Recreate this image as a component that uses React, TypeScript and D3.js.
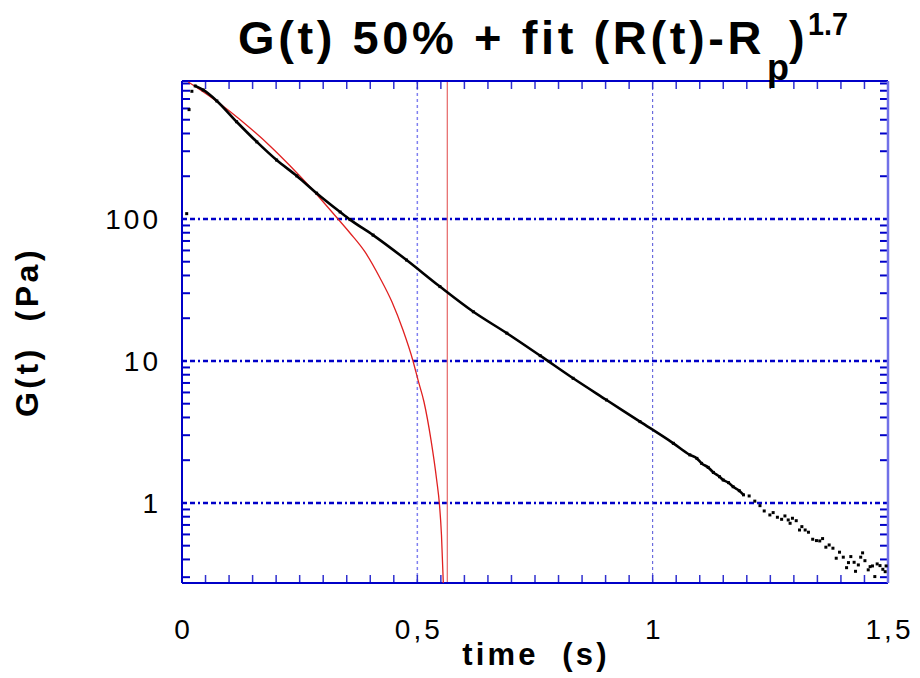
import React from 'react';
import * as d3 from 'd3';

// Measured relaxation modulus G(t) (Pa) vs time (s)
const dataT = [0.010, 0.015, 0.021, 0.028, 0.045, 0.074, 0.116, 0.159, 0.201, 0.244, 0.286, 0.336, 0.357, 0.406, 0.477, 0.548, 0.619, 0.690, 0.761, 0.831, 0.902, 0.973, 1.044, 1.079, 1.094, 1.104, 1.118, 1.129, 1.142, 1.150, 1.161, 1.171, 1.184, 1.193, 1.205, 1.217, 1.228, 1.237, 1.249, 1.256, 1.265, 1.274, 1.281, 1.288, 1.292, 1.297, 1.305, 1.312, 1.317, 1.324, 1.331, 1.340, 1.348, 1.355, 1.361, 1.368, 1.375, 1.383, 1.390, 1.397, 1.405, 1.412, 1.416, 1.421, 1.428, 1.431, 1.437, 1.442, 1.446, 1.451, 1.458, 1.462, 1.467, 1.472, 1.477, 1.483, 1.489, 1.494, 1.496];
const dataG = [109, 589, 793, 865, 810, 678, 484, 349, 260, 201, 152, 112, 99, 77, 51.4, 33.4, 22.2, 15.7, 10.9, 7.55, 5.31, 3.74, 2.63, 2.18, 2.06, 1.90, 1.78, 1.64, 1.53, 1.45, 1.39, 1.30, 1.22, 1.14, 1.12, 1.03, 0.957, 0.878, 0.823, 0.855, 0.793, 0.767, 0.810, 0.759, 0.719, 0.780, 0.750, 0.645, 0.681, 0.645, 0.622, 0.555, 0.543, 0.540, 0.561, 0.488, 0.506, 0.480, 0.408, 0.450, 0.415, 0.350, 0.380, 0.419, 0.382, 0.330, 0.366, 0.415, 0.445, 0.392, 0.338, 0.356, 0.360, 0.303, 0.372, 0.362, 0.341, 0.328, 0.360];

// Fit (R(t)-Rp)^1.7
const fitT = [0.0134, 0.0595, 0.1020, 0.1445, 0.1870, 0.2295, 0.2720, 0.3314, 0.3569, 0.3888, 0.4207, 0.4462, 0.4695, 0.4908, 0.5014, 0.5142, 0.5290, 0.5411, 0.5471, 0.5513, 0.5552];
const fitG = [922, 728, 571, 437, 327, 237, 168, 100, 79.7, 58.6, 38.4, 26.0, 16.5, 10.0, 7.35, 5.14, 2.78, 1.45, 0.968, 0.595, 0.273];

const asymptoteT = [0.5637];
const refLinesT = [0.5, 1.0];

const xTickValues = [0, 0.5, 1, 1.5];
const xTickLabels = ['0', '0,5', '1', '1,5'];
const yTickValues = [1, 10, 100];
const yTickLabels = ['1', '10', '100'];

const W = 920, H = 678;
const L = 182, R = 888, T = 81, B = 583;

export default function App() {
  const x = d3.scaleLinear().domain([0, 1.5]).range([L, R]);
  const y = d3.scaleLog().domain([0.273, 937]).range([B, T]);

  const pts = dataT.map((t, i) => [t, dataG[i]] as [number, number]);
  const linePts = pts.filter(p => p[0] >= 0.028 && p[0] <= 1.195);
  const fitPts = fitT.map((t, i) => [t, fitG[i]] as [number, number]);

  const line = d3.line<[number, number]>().x(d => x(d[0])).y(d => y(d[1])).curve(d3.curveMonotoneX);

  const xMinor = d3.range(0, 31).map(i => i * 0.05);
  const yMinor: number[] = [];
  for (const dec of [0.1, 1, 10, 100]) {
    for (let k = 2; k <= 9; k++) {
      const v = dec * k;
      if (v >= 0.273 && v <= 937) yMinor.push(v);
    }
  }

  const blue = '#0000c8';
  const font = "'Liberation Sans', Arial, sans-serif";

  return (
    <svg width={W} height={H} style={{ position: 'absolute', left: 0, top: 0, background: '#fff' }} fontFamily={font}>
      <rect x={0} y={0} width={W} height={H} fill="#fff" />
      {/* horizontal grid lines */}
      {yTickValues.map(v => (
        <line key={'g' + v} x1={L} x2={R} y1={y(v)} y2={y(v)} stroke={blue} strokeWidth={2.5} strokeDasharray="5,3,5,3,2,3" />
      ))}
      {/* vertical reference lines */}
      <line x1={x(refLinesT[0])} x2={x(refLinesT[0])} y1={T} y2={B} stroke="#8080f0" strokeWidth={1.5} strokeDasharray="3,3" />
      <line x1={x(refLinesT[1])} x2={x(refLinesT[1])} y1={T} y2={B} stroke="#5050d8" strokeWidth={1} strokeDasharray="3,3" />
      <line x1={x(asymptoteT[0])} x2={x(asymptoteT[0])} y1={T} y2={B} stroke="#e87070" strokeWidth={1.3} />
      {/* x minor ticks */}
      {xMinor.map((v, i) => (
        <g key={'xt' + i}>
          <line x1={x(v)} x2={x(v)} y1={B} y2={B - 8} stroke="#3030d0" strokeWidth={1.5} />
          <line x1={x(v)} x2={x(v)} y1={T} y2={T + 8} stroke="#3030d0" strokeWidth={1.5} />
        </g>
      ))}
      {/* y minor ticks */}
      {yMinor.map((v, i) => (
        <g key={'yt' + i}>
          <line x1={L} x2={L + 8} y1={y(v)} y2={y(v)} stroke={blue} strokeWidth={2} />
          <line x1={R} x2={R - 8} y1={y(v)} y2={y(v)} stroke={blue} strokeWidth={2} />
        </g>
      ))}
      {/* frame */}
      <line x1={L} x2={R} y1={T} y2={T} stroke={blue} strokeWidth={2} />
      <line x1={L} x2={R} y1={B} y2={B} stroke={blue} strokeWidth={2} />
      <line x1={L} x2={L} y1={T} y2={B} stroke={blue} strokeWidth={2} />
      <line x1={R} x2={R} y1={T} y2={B} stroke="#7070e8" strokeWidth={2.5} />
      {/* fit curve */}
      <path d={line(fitPts) || ''} fill="none" stroke="#e02020" strokeWidth={1.3} />
      {/* data */}
      <path d={line(linePts) || ''} fill="none" stroke="#000" strokeWidth={2.6} />
      {pts.map((p, i) => (
        <rect key={'p' + i} x={x(p[0]) - 1.5} y={y(p[1]) - 1.5} width={3} height={3} fill="#000" />
      ))}
      {/* tick labels */}
      {yTickValues.map((v, i) => (
        <text key={'yl' + v} x={161} y={y(v) + 10} textAnchor="end" fontSize={28} letterSpacing={3} fill="#000">{yTickLabels[i]}</text>
      ))}
      {xTickValues.map((v, i) => (
        <text key={'xl' + v} x={x(v) + 1.5} y={639} textAnchor="middle" fontSize={28} letterSpacing={3} fill="#000">{xTickLabels[i]}</text>
      ))}
      {/* axis titles */}
      <text x={536} y={665} textAnchor="middle" fontSize={31} fontWeight="bold" letterSpacing={3.2} style={{ whiteSpace: 'pre' }}>{'time  (s)'}</text>
      <text transform="translate(38,332) rotate(-90)" textAnchor="middle" fontSize={32} fontWeight="bold" letterSpacing={3.5} style={{ whiteSpace: 'pre' }}>{'G(t)  (Pa)'}</text>
      {/* title */}
      <text x={238} y={54} fontSize={47} fontWeight="bold" letterSpacing={3.6} style={{ whiteSpace: 'pre' }}>{'G(t) 50% + fit (R(t)-R'}</text>
      <text x={767} y={80} fontSize={36} fontWeight="bold">p</text>
      <text x={789} y={54} fontSize={47} fontWeight="bold">)</text>
      <text x={808} y={35} fontSize={32} fontWeight="bold" textLength={40} lengthAdjust="spacingAndGlyphs">1.7</text>
    </svg>
  );
}
